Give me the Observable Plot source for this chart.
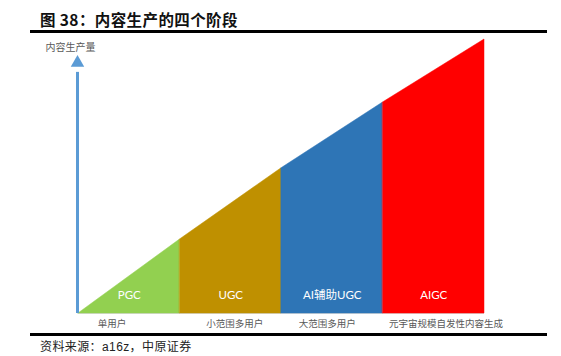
<!DOCTYPE html>
<html><head><meta charset="utf-8">
<script src="https://cdn.jsdelivr.net/npm/d3@7"></script>
<script src="https://cdn.jsdelivr.net/npm/@observablehq/plot@0.6"></script>
<style>
body{margin:0;background:#fff;}
#wrap{position:relative;width:561px;height:356px;overflow:hidden;font-family:"Noto Sans CJK SC","Noto Sans",sans-serif;}
#title{position:absolute;left:40px;top:8px;font-size:15.5px;font-weight:bold;color:#111;letter-spacing:0.4px;white-space:nowrap;}
.rule{position:absolute;left:30px;width:517px;height:3px;background:#000;}
#source{position:absolute;left:40px;top:337px;font-size:12px;color:#222;letter-spacing:0.4px;white-space:nowrap;font-family:"Liberation Sans","Noto Sans CJK SC",sans-serif;}
#chart{position:absolute;left:0;top:0;}
</style></head>
<body>
<div id="wrap">
<div id="chart"></div>
<div id="title"></div>
<div class="rule" style="top:30px"></div>
<div class="rule" style="top:333px"></div>
<div id="source"></div>
</div>
<script>
const titleText = "图 38：内容生产的四个阶段";
const sourceText = "资料来源：a16z，中原证券";
const yLabel = "内容生产量";
const stages = ["PGC", "UGC", "AI辅助UGC", "AIGC"];
const audiences = ["单用户", "小范围多用户", "大范围多用户", "元宇宙规模自发性内容生成"];
const boundaries = [0, 1, 2, 3, 4];
const heights = [0, 27, 53, 77, 100];
const colors = ["#92D050", "#BF9000", "#2E75B6", "#FF0000"];

document.getElementById("title").textContent = titleText;
document.getElementById("source").textContent = sourceText;

const areaData = stages.flatMap((s, i) => [
  {stage: s, x: boundaries[i], y: heights[i]},
  {stage: s, x: boundaries[i + 1], y: heights[i + 1]}
]);
const audOffset = [-0.17, 0.04, -0.05, 0.12];

const plot = Plot.plot({
  width: 561, height: 356,
  marginLeft: 78, marginRight: 77, marginTop: 39, marginBottom: 43,
  x: {domain: [0, 4], axis: null},
  y: {domain: [0, 100], axis: null},
  color: {domain: stages, range: colors},
  style: {background: "transparent", overflow: "visible"},
  marks: [
    Plot.ruleY([0], {x1: 0, x2: 4, stroke: "#d9d9d9", strokeWidth: 1}),
    Plot.areaY(areaData, {x: "x", y1: 0, y2: "y", fill: "stage", z: "stage", stroke: "stage", strokeWidth: 0.5}),
    Plot.ruleX([0], {y1: 0, y2: 88, stroke: "#5B9BD5", strokeWidth: 3, dx: -1}),
    Plot.dot([0], {x: d => d, y: 91.5, symbol: "triangle", r: 5, fill: "#5B9BD5", stroke: "none", dx: -1}),
    Plot.text([yLabel], {x: 0, y: 97, text: d => d, dx: -8, fontSize: 10, fill: "#595959", fontFamily: "Noto Sans CJK SC"}),
    Plot.text(stages, {x: (d, i) => boundaries[i] + 0.5, y: 0, dy: -18, text: d => d, fill: "white", fontSize: 11.5, fontFamily: "Lato, 'Noto Sans CJK SC'"}),
    Plot.text(audiences, {x: (d, i) => boundaries[i] + 0.5 + audOffset[i], y: 0, dy: 10, text: d => d, fill: "#595959", fontSize: 9.5, fontFamily: "Noto Sans CJK SC"})
  ]
});
document.getElementById("chart").appendChild(plot);
</script>
</body></html>
